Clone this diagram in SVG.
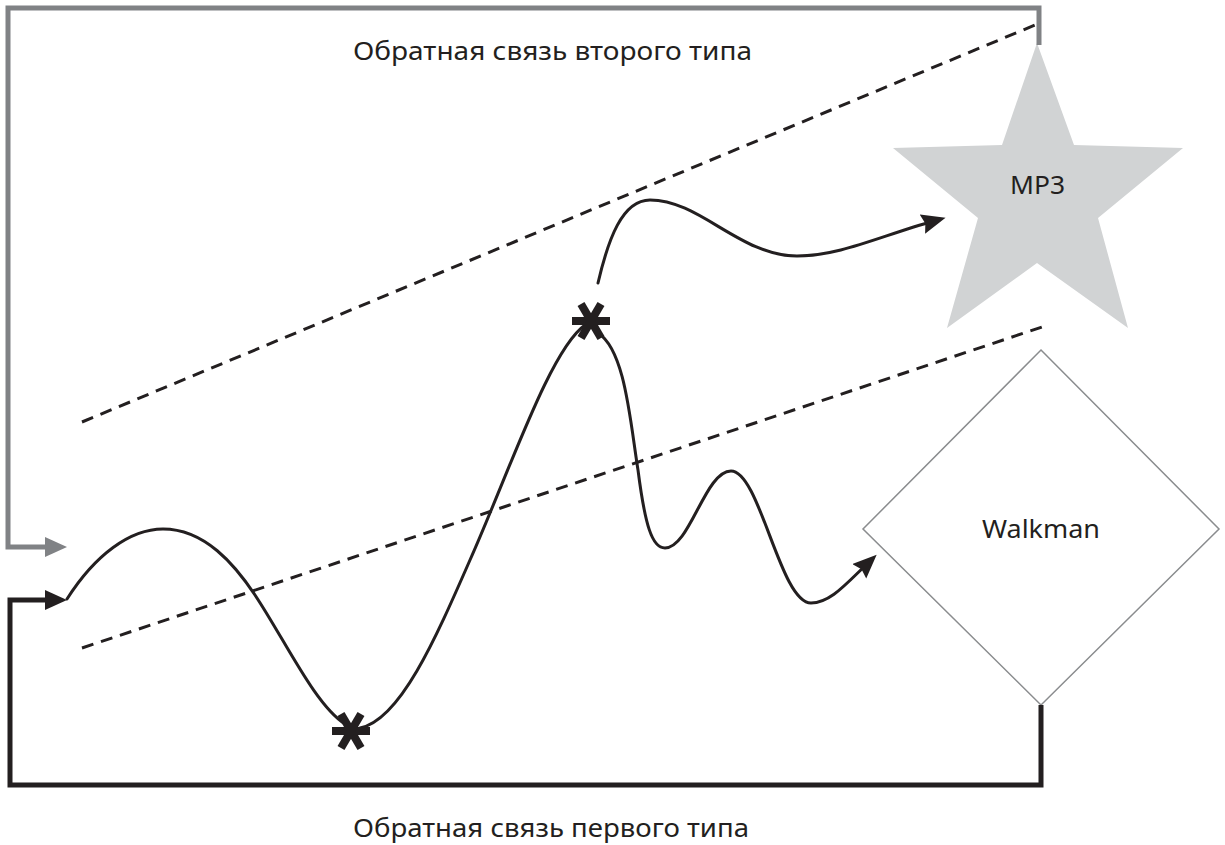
<svg xmlns="http://www.w3.org/2000/svg" width="1225" height="845" viewBox="0 0 1225 845">
<style>
.lbl{font-family:"Noto Sans","Open Sans","Liberation Sans",sans-serif;fill:#231f20;}
.curve{fill:none;stroke:#231f20;stroke-width:3;stroke-linecap:round;}
.dash{fill:none;stroke:#231f20;stroke-width:3;stroke-dasharray:12 8;}
.ast{stroke:#231f20;stroke-width:8;stroke-linecap:butt;}
</style>
<defs>
<marker id="ahGray" markerUnits="userSpaceOnUse" markerWidth="24" markerHeight="22" refX="10" refY="11" orient="auto"><path d="M0,1 L22,11 L0,21 z" fill="#808285"/></marker>
<marker id="ahBlack" markerUnits="userSpaceOnUse" markerWidth="24" markerHeight="22" refX="10" refY="11" orient="auto"><path d="M0,1 L22,11 L0,21 z" fill="#231f20"/></marker>
<marker id="ahCurve" markerUnits="userSpaceOnUse" markerWidth="26" markerHeight="22" refX="12" refY="10" orient="auto"><path d="M0,0 L24,10 L0,20 L3,10 z" fill="#231f20"/></marker>
</defs>
<rect width="1225" height="845" fill="#ffffff"/>

<g id="guides">
<line class="dash" x1="82" y1="422" x2="1035" y2="25"/>
<line class="dash" x1="82" y1="648" x2="1042" y2="327"/>
</g>

<g id="node-mp3">
<polygon points="1037,43 1002,145 893,148 978,218 947,328 1037,263 1128,328 1098,218 1183,148 1074,145" fill="#d1d3d4"/>
<text class="lbl" x="1010" y="194" font-size="25" textLength="55" lengthAdjust="spacingAndGlyphs">MP3</text>
</g>

<g id="node-walkman">
<polygon points="1041,350 1219,529 1041,705 863,529" fill="#ffffff" stroke="#8a8c8e" stroke-width="1.5"/>
<text class="lbl" x="982" y="538" font-size="25" textLength="118" lengthAdjust="spacingAndGlyphs">Walkman</text>
</g>

<g id="connectors">
<path d="M1039,45 V8 H8 V547 H55" fill="none" stroke="#808285" stroke-width="5" marker-end="url(#ahGray)"/>
<path d="M1041,705 V785 H10 V600 H55" fill="none" stroke="#231f20" stroke-width="5" marker-end="url(#ahBlack)"/>
<path class="curve" d="M67,599 C95,555 130,529 163,529 C205,529 235,565 255,595 C285,640 315,705 345,724"/>
<path class="curve" d="M360,728 C400,720 435,640 470,560 C510,470 550,350 585,325"/>
<path class="curve" d="M598,333 C625,350 630,420 638,470 C645,525 652,548 665,548 C690,548 705,471 731,471 C760,471 780,603 811,603 C830,603 845,585 868,563" marker-end="url(#ahCurve)"/>
<path class="curve" d="M598,283 C608,240 622,200 650,200 C700,200 740,256 797,256 C840,256 880,236 934,221" marker-end="url(#ahCurve)"/>
</g>

<g id="asterisks">
<g class="ast">
<line x1="572" y1="321" x2="610" y2="321"/>
<line x1="581" y1="304" x2="601" y2="338"/>
<line x1="601" y1="304" x2="581" y2="338"/>
</g>
<g class="ast">
<line x1="332" y1="731" x2="370" y2="731"/>
<line x1="341" y1="714" x2="361" y2="748"/>
<line x1="361" y1="714" x2="341" y2="748"/>
</g>
</g>

<g id="labels">
<text class="lbl" x="353" y="60" font-size="25" textLength="399" lengthAdjust="spacingAndGlyphs">Обратная связь второго типа</text>
<text class="lbl" x="353" y="837" font-size="25" textLength="396" lengthAdjust="spacingAndGlyphs">Обратная связь первого типа</text>
</g>
</svg>
